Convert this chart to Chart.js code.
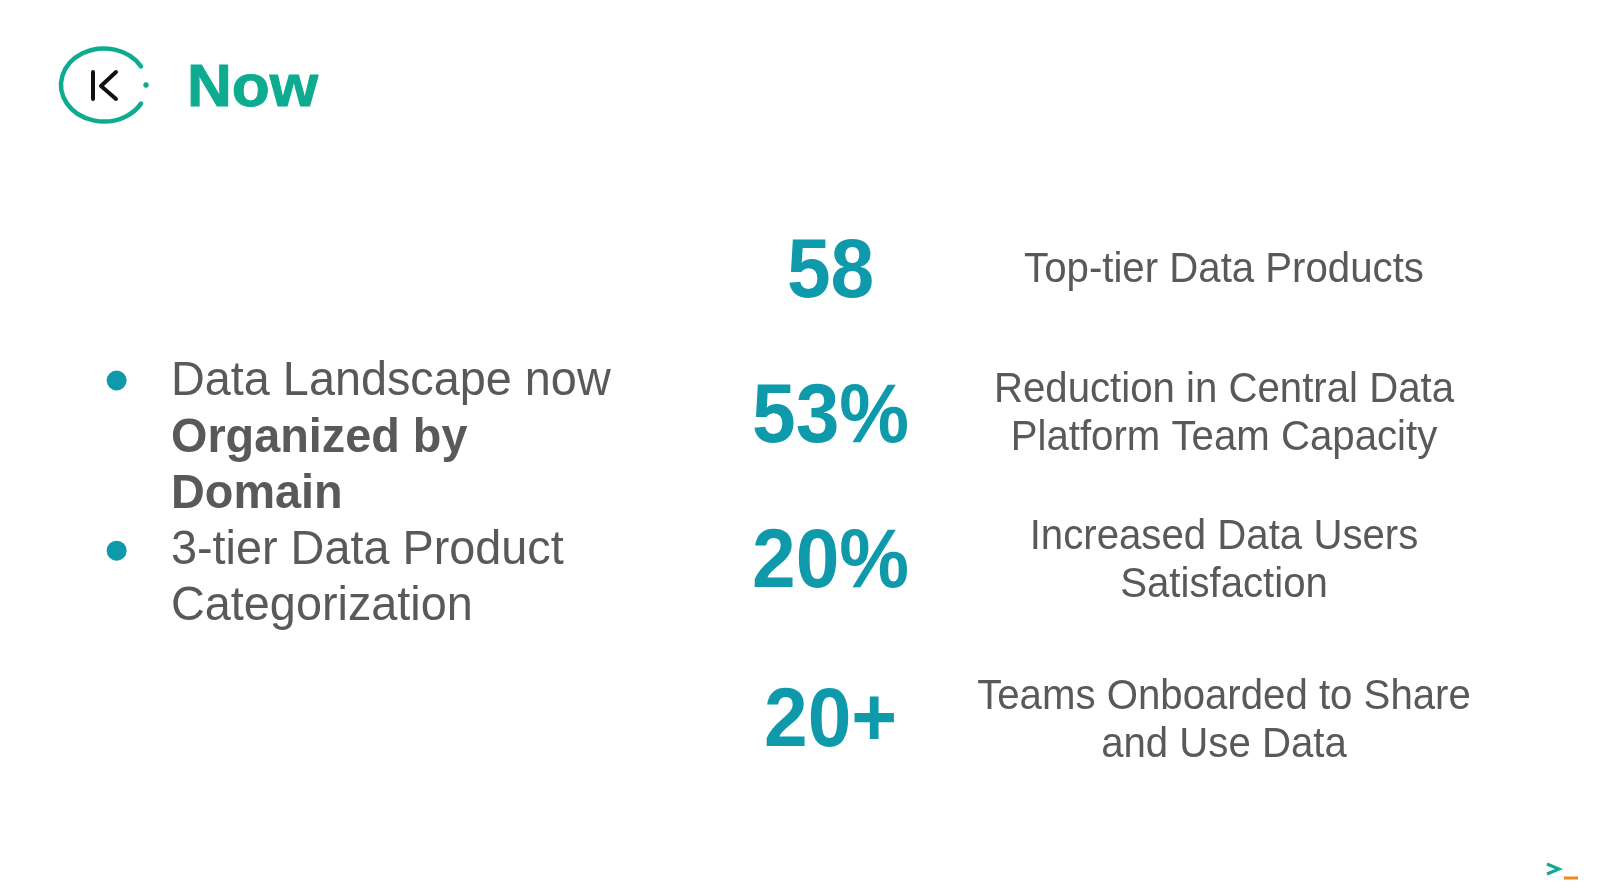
<!DOCTYPE html>
<html><head><meta charset="utf-8">
<style>html,body{margin:0;background:#fff;overflow:hidden}#w{position:absolute;left:0;top:0;width:1600px;height:896px}</style>
<script src="https://cdn.jsdelivr.net/npm/chart.js@4"></script></head>
<body><div id="w"><canvas id="c"></canvas></div>
<script>
// data
const kpiValues = ['58', '53%', '20%', '20+'];
const kpiLabels = [
  ['Top-tier Data Products'],
  ['Reduction in Central Data', 'Platform Team Capacity'],
  ['Increased Data Users', 'Satisfaction'],
  ['Teams Onboarded to Share', 'and Use Data']
];
const bulletLines = [
  [['Data Landscape now', false], ['Organized by', true], ['Domain', true]],
  [['3-tier Data Product', false], ['Categorization', false]]
];
const titleText = 'Now';
// layout
const kpiRowY = [270, 418, 567, 729];
const descRowY = [270, 414.5, 561, 721];
const bulletRowY = [379, 553];
const bulletTextY = [382, 550.5];
const KX = 831, DX = 1224, BX = 108, TX = 171;
const TEAL = '#0f9aac', GREY = '#595959', GREEN = '#0dab90';
const FF = '"Liberation Sans", Arial, sans-serif';

function stretched(g, text, x, y, sy, sx, heavy) {
  g.save();
  g.translate(x, y);
  g.scale(sx || 1, sy);
  g.fillText(text, 0, 0);
  if (heavy) { g.strokeStyle = g.fillStyle; g.lineWidth = heavy; g.strokeText(text, 0, 0); }
  g.restore();
}

const slide = {
  id: 'slide',
  afterDatasetsDraw(ch) {
    const g = ch.ctx;
    g.save();
    g.textBaseline = 'middle';
    // logo
    g.strokeStyle = GREEN; g.lineWidth = 4.5; g.lineCap = 'round';
    g.beginPath(); g.ellipse(104, 85, 43, 36.5, 0, -0.535, 0.535, true); g.stroke();
    g.fillStyle = GREEN; g.beginPath(); g.arc(146, 85, 2.7, 0, 7); g.fill();
    g.strokeStyle = '#111'; g.lineWidth = 4; g.lineJoin = 'round';
    g.beginPath(); g.moveTo(93, 72); g.lineTo(93, 99); g.moveTo(116, 72); g.lineTo(101, 86); g.lineTo(116, 99); g.stroke();
    // title
    g.textAlign = 'left'; g.fillStyle = GREEN; g.font = 'bold 60px ' + FF;
    stretched(g, titleText, 187, 89, 1, 1.035, 1);
    // KPI
    const pts = ch.getDatasetMeta(0).data;
    pts.forEach((p, i) => {
      g.textAlign = 'center'; g.fillStyle = TEAL; g.font = 'bold 78.5px ' + FF;
      stretched(g, kpiValues[i], p.x, p.y, 1.07);
      g.fillStyle = GREY; g.font = '40.2px ' + FF;
      const L = kpiLabels[i];
      L.forEach((t, j) => stretched(g, t, DX, descRowY[i] + (j - (L.length - 1) / 2) * 48, 1.04));
    });
    // bullets
    g.textAlign = 'left'; g.fillStyle = GREY;
    bulletLines.forEach((lines, i) => {
      lines.forEach(([t, b], j) => {
        g.font = (b ? 'bold ' : '') + '46.8px ' + FF;
        stretched(g, t, TX, bulletTextY[i] + j * 56.5, 1.03);
      });
    });
    g.restore();
  }
};
new Chart(document.getElementById('c'), {
  type: 'scatter',
  data: { datasets: [
    { data: kpiRowY.map(y => ({ x: KX, y })), pointRadius: 0 },
    { data: bulletRowY.map(y => ({ x: BX, y })), pointRadius: 10, pointBackgroundColor: TEAL, pointBorderWidth: 0 }
  ]},
  options: {
    responsive: true, maintainAspectRatio: false, animation: false, layout: { padding: 0 },
    plugins: { legend: { display: false }, tooltip: { enabled: false } },
    scales: {
      x: { type: 'linear', min: 0, max: 1600, display: false },
      y: { type: 'linear', min: 0, max: 896, reverse: true, display: false }
    }
  },
  plugins: [slide, {
    id: 'prompt',
    afterDraw(ch) {
      const g = ch.ctx; g.save();
      g.strokeStyle = GREEN; g.lineWidth = 3; g.beginPath(); g.moveTo(1547, 864); g.lineTo(1559, 869); g.lineTo(1547, 874); g.stroke();
      g.fillStyle = '#f08a24'; g.fillRect(1564, 876.5, 14, 3);
      g.restore();
    }
  }]
});
</script></body></html>
